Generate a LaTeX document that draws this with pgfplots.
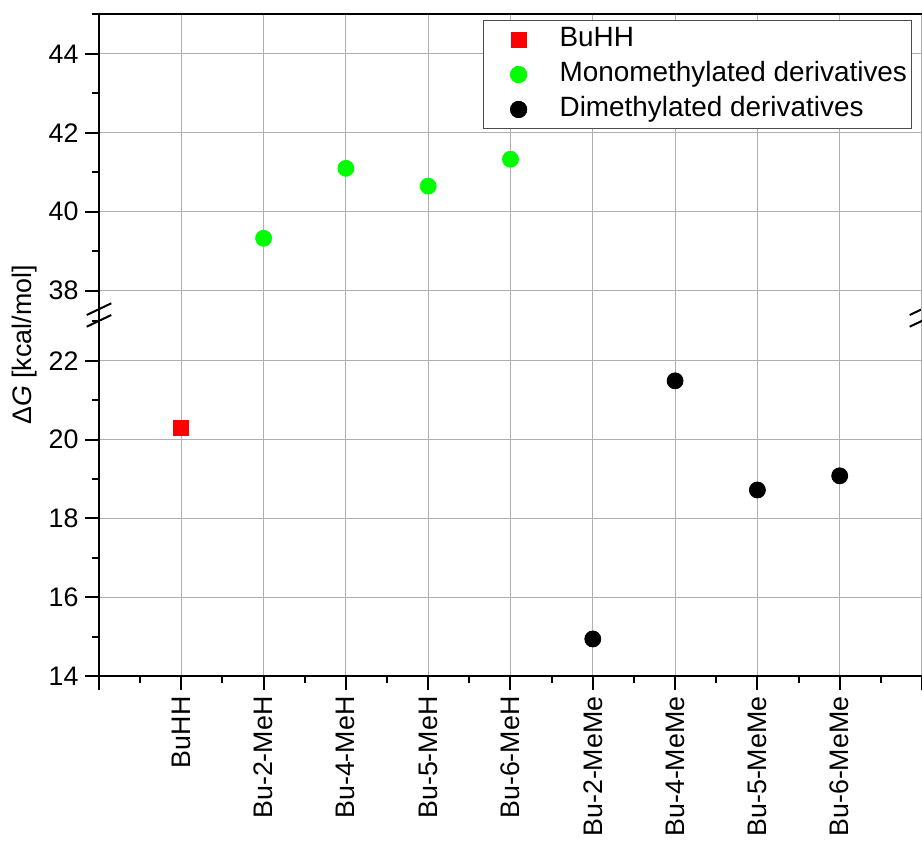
\documentclass[border=0pt]{standalone}
\usepackage{fontspec}
\setmainfont{Liberation Sans}
\usepackage{pgfplots}
\pgfplotsset{compat=1.18}
\definecolor{grn}{RGB}{0,255,0}
\definecolor{gridgray}{RGB}{175,175,175}
\newcommand{\lbl}{\fontsize{13.4}{16}\selectfont}
\newcommand{\lgdfont}{\fontsize{13.95}{16}\selectfont}
\begin{document}
\begin{tikzpicture}
\pgfplotsset{
  brk/.style={
    scale only axis, width=411.5pt,
    xmin=0, xmax=10,
    xtick={0,...,10},
    axis line style={draw=none},
    tick align=outside, tick pos=left,
    major tick length=6.75pt, minor tick length=3.5pt,
    tick style={black, line width=1pt},
    grid=major,
    major grid style={gridgray, line width=0.6pt},
    tick label style={font=\lbl},
    /pgf/number format/assume math mode=true,
    minor y tick num=1,
    ytick distance=2,
    clip=false,
  },
  lgd/.style={legend image code/.code={%
    \path[##1, draw=none] plot coordinates {(15.5pt,0pt)};
    \draw[##1] plot[only marks] coordinates {(15.5pt,0pt)};
    \path[draw=none, fill=none] (0pt,0pt) -- (36pt,0pt);}},
}
% lower part: 14 ... 23.16
\begin{axis}[brk, name=lower, at={(0,0)}, anchor=south west,
  height=180.5pt, ymin=14, ymax=23.16,
  minor x tick num=1,
  xticklabels={,BuHH,Bu-2-MeH,Bu-4-MeH,Bu-5-MeH,Bu-6-MeH,Bu-2-MeMe,Bu-4-MeMe,Bu-5-MeMe,Bu-6-MeMe,},
  x tick label style={rotate=90, anchor=east},
]
\addplot[only marks, mark=square*, red, mark size=3.75pt] coordinates {(1,20.30)};
\addplot[only marks, mark=*, black, mark size=4pt] coordinates {(6,14.94) (7,21.49) (8,18.72) (9,19.08)};
\draw[line width=1pt, line cap=rect] (rel axis cs:0,1) -- (rel axis cs:0,0) -- (rel axis cs:1,0);
\draw[line width=1pt] ([xshift=-6.15pt,yshift=0.0pt]rel axis cs:0,1) -- ++(12.3pt,5.85pt);
\draw[line width=1pt] ([xshift=-6.15pt,yshift=-5.85pt]rel axis cs:0,1) -- ++(12.3pt,5.85pt);
\draw[line width=1pt] ([xshift=-6.15pt,yshift=0.0pt]rel axis cs:1,1) -- ++(12.3pt,5.85pt);
\draw[line width=1pt] ([xshift=-6.15pt,yshift=-5.85pt]rel axis cs:1,1) -- ++(12.3pt,5.85pt);
\end{axis}
% upper part: 37.386 ... 45
\begin{axis}[brk, name=upper, at={(0,180.5pt)}, anchor=south west,
  height=150.35pt, ymin=37.386, ymax=45,
  xticklabels={}, x tick style={draw=none},
  legend cell align=left,
  legend style={at={(1,1)}, anchor=north east, xshift=-5.25pt, yshift=-2.85pt,
    draw=black!70, line width=0.5pt, font=\lgdfont,
    inner xsep=2pt, inner ysep=1.25pt, column sep=0pt, row sep=1pt,
    nodes={inner xsep=0pt, inner ysep=1.75pt, text height=10pt, text depth=3pt}},
]
\addlegendimage{only marks, mark=square*, red, mark size=3.75pt, lgd}
\addlegendentry{BuHH}
\addplot[only marks, mark=*, grn, mark size=4pt, lgd] coordinates {(2,39.33) (3,41.10) (4,40.65) (5,41.33)};
\addlegendentry{Monomethylated derivatives}
\addlegendimage{only marks, mark=*, black, mark size=4pt, lgd}
\addlegendentry{Dimethylated derivatives}
\draw[line width=1pt, line cap=rect] (rel axis cs:0,0) -- (rel axis cs:0,1) -- (rel axis cs:1,1);
\end{axis}
\node[rotate=90, font=\lbl] at (-37pt,165.5pt) {{\upshape Δ}\textit{G} [kcal/mol]};
\pgfresetboundingbox
\path[use as bounding box] (-49.5pt,-83.5pt) rectangle (411.5pt,338pt);
\end{tikzpicture}
\end{document}
